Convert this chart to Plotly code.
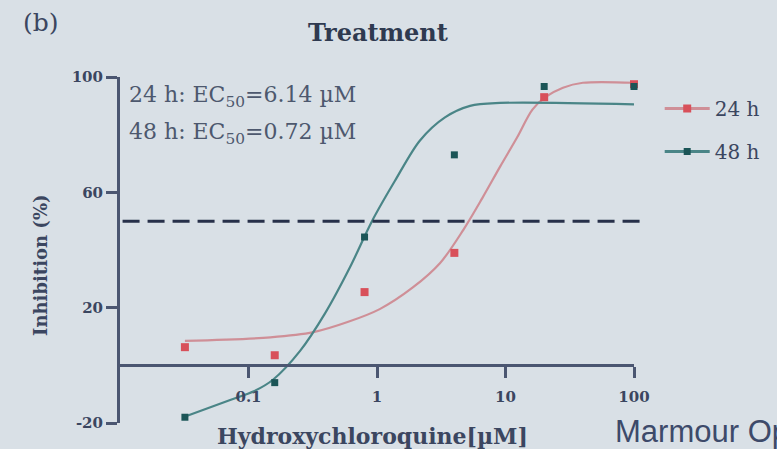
import plotly.graph_objects as go

# ---- data ----
conc = [0.032, 0.16, 0.8, 4, 20, 100]            # Hydroxychloroquine (µM)
inhib_24h = [6.3, 3.5, 25.4, 39, 93, 97.5]        # Inhibition (%) 24 h
inhib_48h = [-18, -6, 44.5, 73, 96.7, 96.7]       # Inhibition (%) 48 h

fit_x_24h = [0.032, 0.148, 0.32, 0.59, 1.05, 1.9, 3.1, 4.7, 6.6, 9.1, 12.3, 16.2, 20.4, 28, 40, 100]
fit_y_24h = [8.5, 9.7, 11.5, 15, 19.5, 27, 35.5, 47, 58, 69, 79, 88.7, 93, 96.3, 98, 98]
fit_x_48h = [0.031, 0.072, 0.11, 0.155, 0.252, 0.394, 0.616, 0.914, 1.38, 2.16, 3.38, 5.3, 9.06, 100]
fit_y_48h = [-18, -12, -9, -5, 5, 18, 34, 50, 64, 78, 86, 90, 91, 90.5]

half_level = 50
x_ticks = [0.1, 1, 10, 100]
x_tick_text = ["0.1", "1", "10", "100"]
y_ticks = [-20, 20, 60, 100]
y_tick_text = ["-20", "20", "60", "100"]
ec50_text = ["24 h: EC<sub>50</sub>=6.14 µM", "48 h: EC<sub>50</sub>=0.72 µM"]

RED_LINE = "#cf8f97"
RED_MK = "#d8505a"
TEAL_LINE = "#4a8587"
TEAL_MK = "#1b5557"
INK = "#3b4660"
BG = "#d9e0e6"
SERIF = "DejaVu Serif"

fig = go.Figure()

fig.add_trace(go.Scatter(x=fit_x_24h, y=fit_y_24h, mode="lines",
                         line=dict(color=RED_LINE, width=2.2, shape="spline", smoothing=0.9),
                         showlegend=False, hoverinfo="skip", cliponaxis=False))
fig.add_trace(go.Scatter(x=fit_x_48h, y=fit_y_48h, mode="lines",
                         line=dict(color=TEAL_LINE, width=2.2, shape="spline", smoothing=0.9),
                         showlegend=False, hoverinfo="skip", cliponaxis=False))
fig.add_trace(go.Scatter(x=conc, y=inhib_24h, mode="markers", showlegend=False,
                         marker=dict(symbol="square", size=8, color=RED_MK), cliponaxis=False))
fig.add_trace(go.Scatter(x=conc, y=inhib_48h, mode="markers", showlegend=False,
                         marker=dict(symbol="square", size=7, color=TEAL_MK), cliponaxis=False))
# legend entries (line + marker)
fig.add_trace(go.Scatter(x=[None], y=[None], mode="lines+markers", name="24 h", legendgroup="a",
                         line=dict(color=RED_LINE, width=3),
                         marker=dict(symbol="square", size=8, color=RED_MK)))
fig.add_trace(go.Scatter(x=[None], y=[None], mode="lines+markers", name="48 h", legendgroup="b",
                         line=dict(color=TEAL_LINE, width=3),
                         marker=dict(symbol="square", size=7, color=TEAL_MK)))

# 50 % reference line
fig.add_shape(type="line", xref="paper", yref="y", x0=0.005, x1=1.02, y0=half_level, y1=half_level,
              line=dict(color="#27304a", width=3, dash="17px,8px"))

fig.update_layout(
    width=777, height=449,
    margin=dict(l=120, r=143, t=77, b=26),
    paper_bgcolor=BG, plot_bgcolor=BG,
    font=dict(family=SERIF, color=INK),
    xaxis=dict(type="log", range=[-2, 2], showgrid=False, zeroline=False,
               showline=True, linecolor="#4b5671", linewidth=3,
               anchor="free", position=20 / 120,
               ticks="outside", ticklen=11, tickwidth=3, tickcolor="#4b5671",
               tickvals=x_ticks, ticktext=x_tick_text, ticklabelstandoff=6,
               tickfont=dict(family=SERIF, size=15, color=INK, weight="bold")),
    yaxis=dict(range=[-20, 100], showgrid=False, zeroline=False,
               showline=True, linecolor="#4b5671", linewidth=3,
               ticks="outside", ticklen=11, tickwidth=3, tickcolor="#4b5671",
               tickvals=y_ticks, ticktext=y_tick_text,
               tickfont=dict(family=SERIF, size=15, color=INK, weight="bold")),
    legend=dict(x=1.05, y=0.965, xanchor="left", yanchor="top", bgcolor="rgba(0,0,0,0)",
                font=dict(family=SERIF, size=20, color=INK), tracegroupgap=14, itemwidth=45),
    showlegend=True,
)

ann = [
    dict(text="(b)", x=21, y=23, font=dict(size=25, color=INK)),
    dict(text="<b>Treatment</b>", x=378, y=32, xanchor="center", font=dict(size=24, color="#2f3a50")),
    dict(text=ec50_text[0], x=127, y=97, font=dict(size=22, color="#4d586e")),
    dict(text=ec50_text[1], x=127, y=133, font=dict(size=22, color="#4d586e")),
    dict(text="<b>Inhibition (%)</b>", x=40, y=265, xanchor="center", textangle=-90, font=dict(size=18, color=INK)),
    dict(text="<b>Hydroxychloroquine[µM]</b>", x=372, y=436, xanchor="center", font=dict(size=22, color=INK)),
    dict(text="Marmour Op", x=613, y=431, font=dict(family="Liberation Sans", size=31, color="#3d4a6a")),
]
for a in ann:
    px, py = a["x"], a["y"]
    fig.add_annotation(
        xref="paper", yref="paper", showarrow=False, text=a["text"],
        x=(px - 120) / (777 - 120 - 143), y=(449 - 26 - py) / (449 - 77 - 26),
        xanchor=a.get("xanchor", "left"), yanchor="middle",
        textangle=a.get("textangle", 0), font=a["font"],
    )

fig.write_html("out.html", config={"displayModeBar": False},
               post_script="document.body.style.margin='0';document.body.style.overflow='hidden';")
